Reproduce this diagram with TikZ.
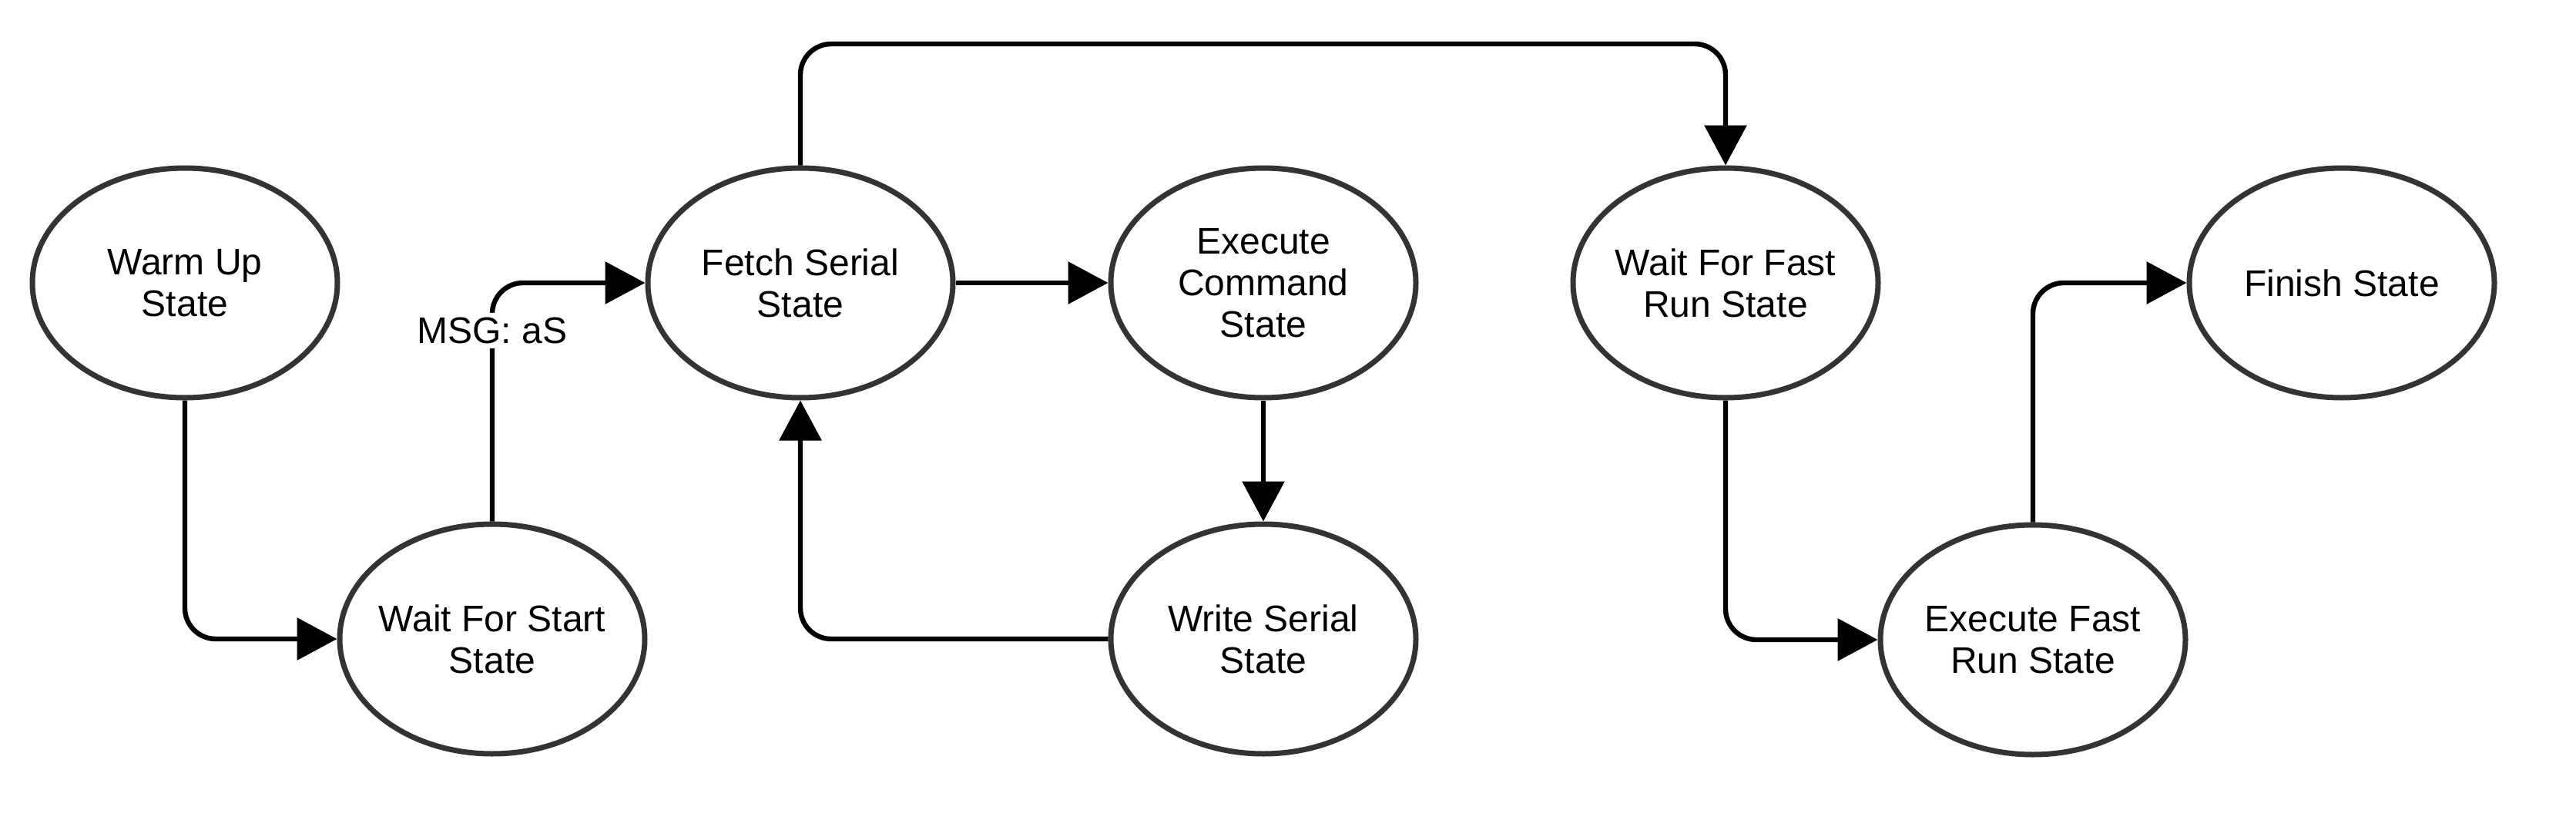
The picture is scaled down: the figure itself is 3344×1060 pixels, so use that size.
\documentclass[tikz,border=0pt]{standalone}
\usepackage{fontspec}
\setmainfont{Liberation Sans}
\usetikzlibrary{shapes.geometric,arrows.meta}
\begin{document}
\begin{tikzpicture}[x=0.25pt,y=-0.25pt,
  statebox/.style={ellipse,draw=black!80,line width=1.75pt,fill=white,
    minimum width=99pt,minimum height=74.5pt,inner xsep=-12pt,inner ysep=0pt,align=center,
    font=\fontsize{12}{13.5}\selectfont},
  conn/.style={line width=1.6pt,rounded corners=10pt,
    -{Triangle[length=13pt,width=13.5pt]}},
  lbl/.style={fill=white,inner sep=1.5pt,font=\fontsize{12}{13.5}\selectfont}]
\useasboundingbox (0,0) rectangle (3344,1060);
\node[statebox] (warm) at (240,367) {Warm Up\\State};
\node[statebox] (wait) at (639,829) {Wait For Start\\State};
\node[statebox] (fetch) at (1039,367) {Fetch Serial\\State};
\node[statebox] (exec) at (1640,367) {Execute\\Command\\State};
\node[statebox] (write) at (1640,829) {Write Serial\\State};
\node[statebox] (waitfast) at (2240,367) {Wait For Fast\\Run State};
\node[statebox] (execfast) at (2639,830) {Execute Fast\\Run State};
\node[statebox] (finish) at (3040,367) {Finish State};
\coordinate (topY) at (1039,57);
\draw[conn] (warm.south) |- (wait.west);
\draw[conn] (wait.north) |- (fetch.west) node[lbl,pos=0.4] {MSG: aS};
\draw[conn] (fetch.east) -- (exec.west);
\draw[conn] (exec.south) -- (write.north);
\draw[conn] (write.west) -| (fetch.south);
\draw[conn] (fetch.north) -- (fetch.north |- topY) -| (waitfast.north);
\draw[conn] (waitfast.south) |- (execfast.west);
\draw[conn] (execfast.north) |- (finish.west);
\end{tikzpicture}
\end{document}
